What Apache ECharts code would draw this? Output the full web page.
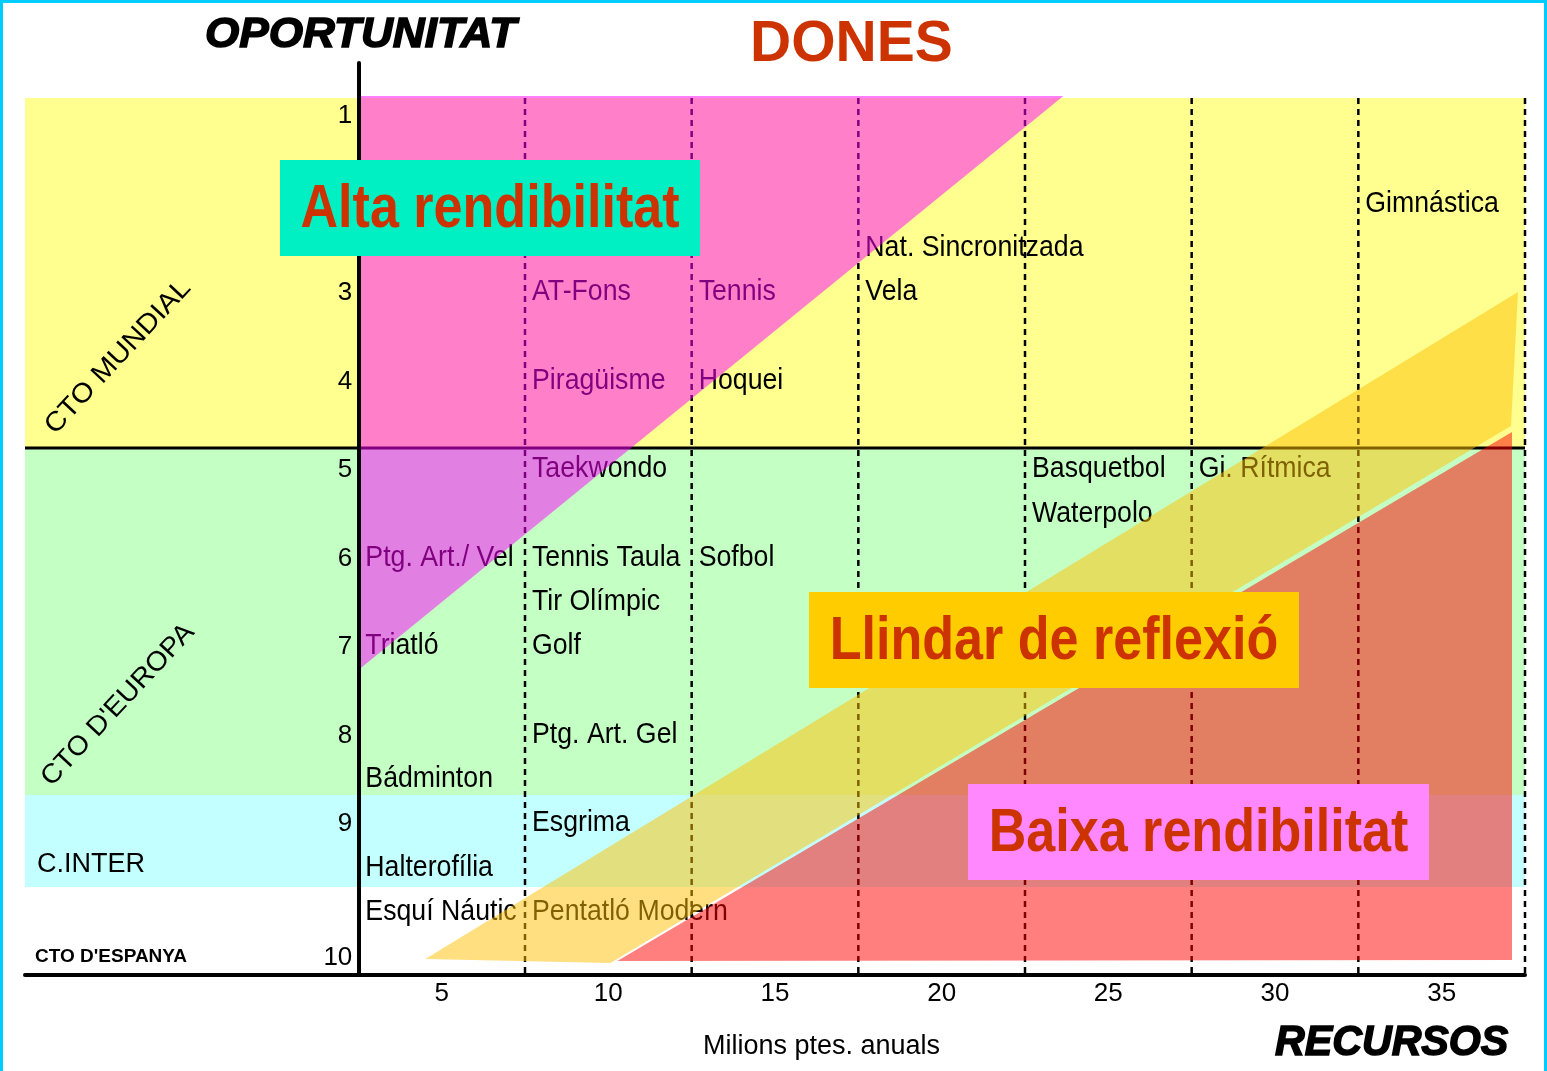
<!DOCTYPE html>
<html><head><meta charset="utf-8">
<script src="https://cdn.jsdelivr.net/npm/echarts@6/dist/echarts.min.js"></script>
<style>html,body{margin:0;padding:0;background:#fff}#c{width:1547px;height:1071px}</style>
</head><body><div id="c"></div>
<script>
// ---------- data ----------
const xTickValues = [5, 10, 15, 20, 25, 30, 35];
const yTickValues = [1, 3, 4, 5, 6, 7, 8, 9, 10.51];
const yTickLabels = ['1', '3', '4', '5', '6', '7', '8', '9', '10'];
const columnEdges = [7.5, 12.5, 17.5, 22.5, 27.5, 32.5, 37.5];
const levelSplit = 4.785;
const bandTop = [0.831, 4.785, 8.706];
const bandBottom = [4.785, 8.706, 9.746];

const sportNames = ['Gimnástica', 'Nat. Sincronitzada', 'AT-Fons', 'Tennis', 'Vela', 'Piragüisme', 'Hoquei',
  'Taekwondo', 'Basquetbol', 'Gi. Rítmica', 'Waterpolo', 'Ptg. Art./ Vel', 'Tennis Taula', 'Sofbol',
  'Tir Olímpic', 'Triatló', 'Golf', 'Ptg. Art. Gel', 'Bádminton', 'Esgrima', 'Halterofília',
  'Esquí Náutic', 'Pentatló Modern'];
const sportRecursos = [32.5, 17.5, 7.5, 12.5, 17.5, 7.5, 12.5, 7.5, 22.5, 27.5, 22.5, 2.5, 7.5, 12.5,
  7.5, 2.5, 7.5, 7.5, 2.5, 7.5, 2.5, 2.5, 7.5];
const sportOportunitat = [2, 2.5, 3, 3, 3, 4, 4, 5, 5, 5, 5.5, 6, 6, 6, 6.5, 7, 7, 8, 8.5, 9, 9.5, 10, 10];

const altaZone = [[2.5, 0.808], [23.65, 0.808], [2.5, 7.294]];
const llindarZone = [[4.51, 10.559], [10.06, 10.604], [37.08, 4.537], [37.29, 3.023]];
const baixaZone = [[10.27, 10.582], [37.11, 4.605], [37.11, 10.571]];

// ---------- layout / style ----------
const xMin = -7.5, xMax = 37.5, yMin = 0.435, yMax = 10.74, yAxisAt = 2.5;
const bandColors = ['#FFFF90', '#C4FFC4', '#C4FFFF'];
const zones = [altaZone, llindarZone, baixaZone];
const zoneColors = ['rgba(255,0,255,0.5)', 'rgba(255,192,0,0.5)', 'rgba(255,0,0,0.5)'];
const SANS = '"Liberation Sans",Arial,sans-serif';

const chart = echarts.init(document.getElementById('c'), null, {renderer: 'canvas'});

function txt(x, y, text, font, fill, align, extra, styleExtra) {
  return Object.assign({
    type: 'text', x: x, y: y, z: 100,
    style: Object.assign({text: text, font: font, fill: fill, align: align || 'left', textAlign: align || 'left',
      verticalAlign: 'middle', textVerticalAlign: 'middle'}, styleExtra || {})
  }, extra || {});
}
function box(x, y, w, h, color, text) {
  return {
    type: 'group', z: 100,
    children: [
      {type: 'rect', z: 100, shape: {x: x, y: y, width: w, height: h}, style: {fill: color}},
      txt(x + w / 2, y + h / 2 + 2, text, 'bold 62px ' + SANS, '#CC3300', 'center', {scaleX: 0.84})
    ]
  };
}

const option = {
  animation: false,
  backgroundColor: '#fff',
  grid: {left: 25, right: 22, top: 63, bottom: 96, containLabel: false},
  xAxis: {
    type: 'value', min: xMin, max: xMax, z: 6,
    axisLine: {onZero: false, lineStyle: {color: '#000', width: 4}},
    axisTick: {show: false},
    splitLine: {show: false},
    axisLabel: {customValues: xTickValues, color: '#000', fontSize: 26, fontFamily: SANS, margin: 6}
  },
  yAxis: {
    type: 'value', min: yMin, max: yMax, inverse: true, offset: -333.3, z: 6,
    axisLine: {show: true, onZero: false, lineStyle: {color: '#000', width: 4}},
    axisTick: {show: false},
    splitLine: {show: false},
    axisLabel: {show: false}
  },
  series: [
    {
      type: 'custom', z: 1, silent: true,
      data: bandTop.map((t, i) => [i, t]),
      renderItem: function (params, api) {
        const i = params.dataIndex;
        const p0 = api.coord([xMin, bandTop[i]]);
        const p1 = api.coord([xMax, bandBottom[i]]);
        return {type: 'rect', shape: {x: p0[0], y: p0[1], width: p1[0] - p0[0], height: p1[1] - p0[1]},
          style: {fill: bandColors[i]}};
      }
    },
    {
      type: 'custom', z: 2, silent: true,
      data: [[0, 1]],
      renderItem: function (params, api) {
        const children = columnEdges.map(function (x) {
          const a = api.coord([x, bandTop[0]]), b = api.coord([x, yMax]);
          return {type: 'line', shape: {x1: a[0], y1: a[1], x2: b[0], y2: b[1]},
            style: {stroke: '#000', lineWidth: 2.5, lineDash: [6, 5]}};
        });
        const a = api.coord([xMin, levelSplit]), b = api.coord([xMax, levelSplit]);
        children.push({type: 'line', shape: {x1: a[0], y1: a[1], x2: b[0], y2: b[1]},
          style: {stroke: '#000', lineWidth: 3}});
        return {type: 'group', children: children};
      }
    },
    {
      // y tick labels (Oportunitat levels), placed through the y scale
      type: 'custom', z: 7, silent: true,
      data: yTickValues.map(v => [yAxisAt, v]),
      renderItem: function (params, api) {
        const i = params.dataIndex;
        const p = api.coord([api.value(0), api.value(1)]);
        return {type: 'text', x: p[0] - 6, y: p[1] + 3,
          style: {text: yTickLabels[i], font: '26px ' + SANS, fill: '#000',
            align: 'right', textAlign: 'right', verticalAlign: 'middle', textVerticalAlign: 'middle'}};
      }
    },
    {
      type: 'custom', z: 3, silent: true,
      data: sportNames.map((n, i) => [sportRecursos[i], sportOportunitat[i]]),
      renderItem: function (params, api) {
        const i = params.dataIndex;
        const p = api.coord([api.value(0), api.value(1)]);
        return {type: 'text', x: p[0] + 7, y: p[1] + 2, scaleX: 0.89,
          style: {text: sportNames[i], font: '30px ' + SANS, fill: '#000',
            align: 'left', textAlign: 'left', verticalAlign: 'middle', textVerticalAlign: 'middle'}};
      }
    },
    {
      type: 'custom', z: 4, silent: true,
      data: zones.map((zn, i) => [i, 1]),
      renderItem: function (params, api) {
        const i = params.dataIndex;
        const pts = zones[i].map(p => api.coord(p));
        return {type: 'polygon', shape: {points: pts}, style: {fill: zoneColors[i]}};
      }
    }
  ],
  graphic: [
    {type: 'polyline', z: 100, shape: {points: [[1.5, 1071], [1.5, 1.5], [1545.5, 1.5], [1545.5, 1071]]},
      style: {stroke: '#00CCFF', lineWidth: 3, fill: null}},
    txt(205, 35, 'OPORTUNITAT', 'italic bold 42px ' + SANS, '#000', 'left', {scaleX: 1.05},
      {stroke: '#000', lineWidth: 1.5}),
    txt(750, 45, 'DONES', 'bold 57px ' + SANS, '#CC3300', 'left'),
    txt(703, 1047, 'Milions ptes. anuals', '27px ' + SANS, '#000', 'left'),
    txt(1275, 1043, 'RECURSOS', 'italic bold 42px ' + SANS, '#000', 'left', {scaleX: 0.98},
      {stroke: '#000', lineWidth: 1.5}),
    txt(118, 357, 'CTO MUNDIAL', '27px ' + SANS, '#000', 'center', {rotation: 47 * Math.PI / 180, scaleX: 1.08}),
    txt(118, 705, "CTO D'EUROPA", '27px ' + SANS, '#000', 'center', {rotation: 47 * Math.PI / 180, scaleX: 1.05}),
    txt(37, 865, 'C.INTER', '27px ' + SANS, '#000', 'left'),
    txt(35, 957, "CTO D'ESPANYA", 'bold 19px ' + SANS, '#000', 'left'),
    box(280, 160, 420, 96, '#00F0C4', 'Alta rendibilitat'),
    box(809, 592, 490, 96, '#FFCC00', 'Llindar de reflexió'),
    box(968, 784, 461, 96, '#FF88FF', 'Baixa rendibilitat')
  ]
};
chart.setOption(option);
</script>
</body></html>
